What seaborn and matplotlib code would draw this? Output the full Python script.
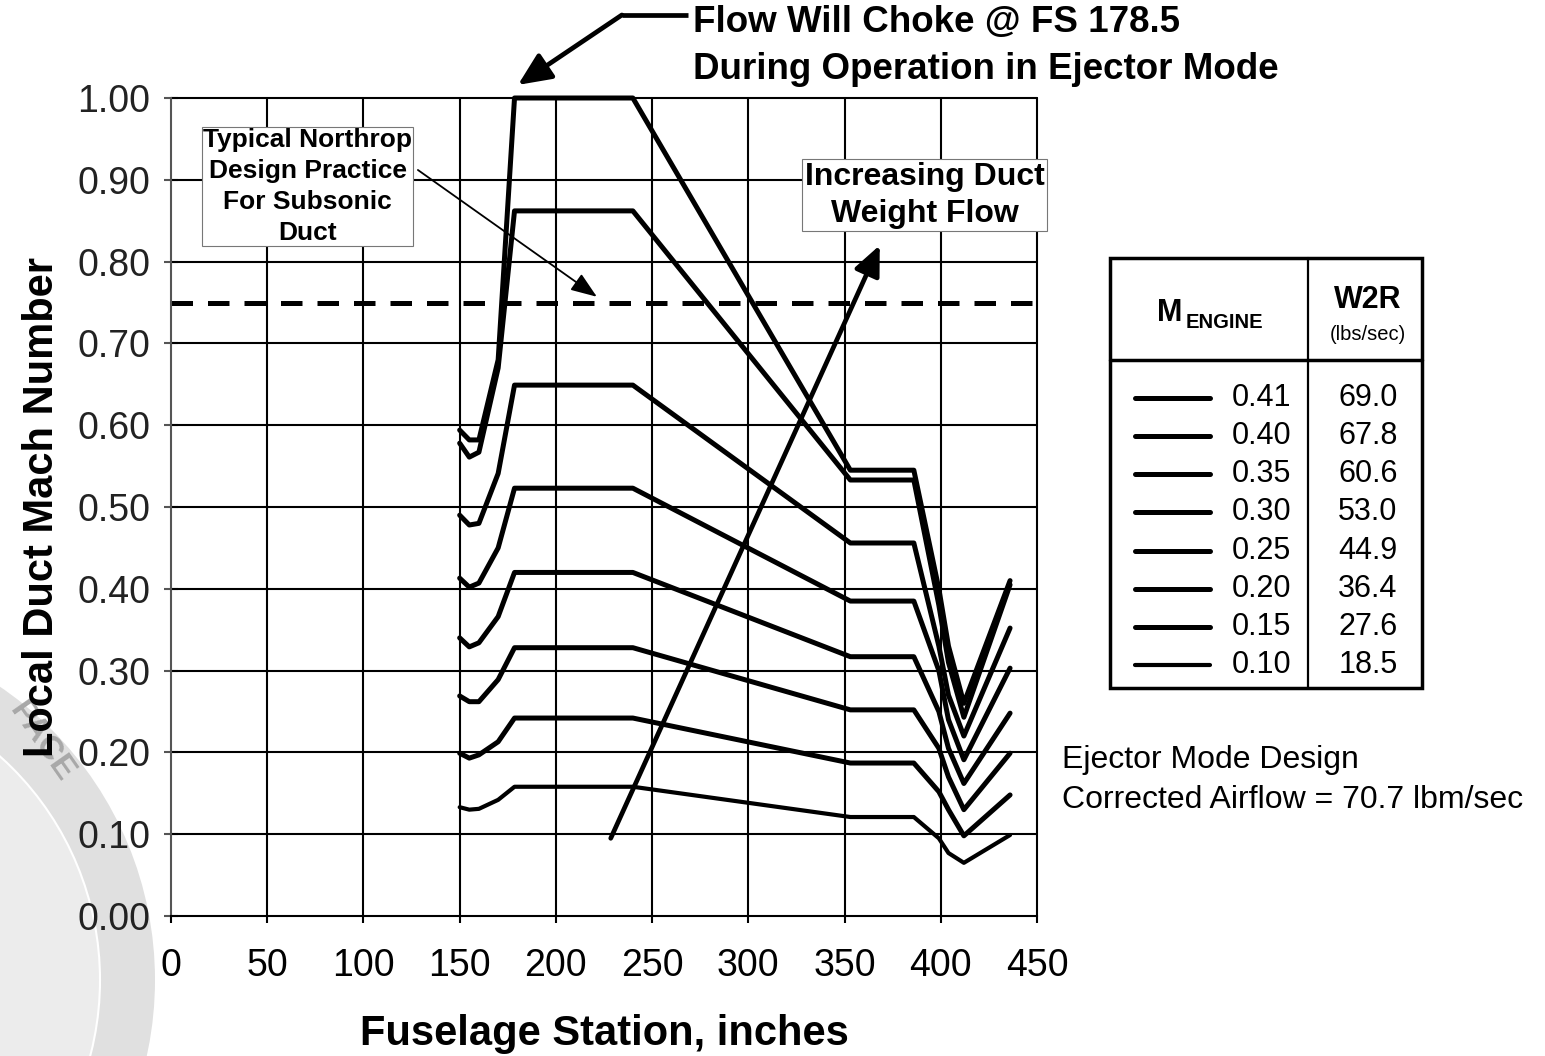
import numpy as np
import pandas as pd
import matplotlib
matplotlib.use('Agg')
import matplotlib.pyplot as plt
from matplotlib.patches import Ellipse, Rectangle
import seaborn as sns

# fuselage stations (inches) where each duct curve was read
stations = [150, 155, 160, 170, 178.5, 240, 353, 386, 399, 404, 412, 436]

# local duct Mach number per engine Mach number
mach_041 = [0.594, 0.582, 0.582, 0.680, 1.000, 1.000, 0.545, 0.545, 0.400, 0.330, 0.260, 0.410]
mach_040 = [0.578, 0.561, 0.567, 0.670, 0.862, 0.862, 0.533, 0.533, 0.380, 0.310, 0.243, 0.405]
mach_035 = [0.490, 0.478, 0.480, 0.541, 0.649, 0.649, 0.456, 0.456, 0.330, 0.270, 0.220, 0.352]
mach_030 = [0.413, 0.402, 0.407, 0.450, 0.523, 0.523, 0.385, 0.385, 0.300, 0.240, 0.191, 0.303]
mach_025 = [0.340, 0.329, 0.334, 0.366, 0.420, 0.420, 0.317, 0.317, 0.250, 0.205, 0.162, 0.248]
mach_020 = [0.269, 0.262, 0.262, 0.289, 0.328, 0.328, 0.252, 0.252, 0.205, 0.170, 0.130, 0.199]
mach_015 = [0.199, 0.193, 0.197, 0.213, 0.242, 0.242, 0.187, 0.187, 0.152, 0.130, 0.098, 0.148]
mach_010 = [0.133, 0.130, 0.131, 0.142, 0.158, 0.158, 0.121, 0.121, 0.095, 0.077, 0.065, 0.099]

m_engine = ['0.41', '0.40', '0.35', '0.30', '0.25', '0.20', '0.15', '0.10']
w2r = ['69.0', '67.8', '60.6', '53.0', '44.9', '36.4', '27.6', '18.5']
curves = [mach_041, mach_040, mach_035, mach_030, mach_025, mach_020, mach_015, mach_010]

design_limit = 0.75
x_ticks = list(range(0, 451, 50))
y_ticks = [0.0, 0.1, 0.2, 0.3, 0.4, 0.5, 0.6, 0.7, 0.8, 0.9, 1.0]

rows = []
for name, vals in zip(m_engine, curves):
    for s, v in zip(stations, vals):
        rows.append({'station': s, 'mach': v, 'engine': name})
df = pd.DataFrame(rows)

sns.set_theme(style='white')
plt.rcParams['font.family'] = ['Liberation Sans', 'DejaVu Sans']
plt.rcParams['text.color'] = 'black'
plt.rcParams['axes.labelcolor'] = 'black'

fig = plt.figure(figsize=(15.45, 10.56), dpi=100)
W, H = 1545, 1056

# faint stamp in the lower-left corner of the scan
cx, cy = -200 / W, 1 - 980 / H
fig.patches.append(Ellipse((cx, cy), 2 * 355 / W, 2 * 355 / H, transform=fig.transFigure,
                           fc='#e0e0e0', ec='none', zorder=-2))
fig.patches.append(Ellipse((cx, cy), 2 * 300 / W, 2 * 300 / H, transform=fig.transFigure,
                           fc='#ececec', ec='white', lw=1.5, zorder=-2))
fig.text(42 / W, 1 - 742 / H, 'PACE', rotation=-55, color='#a8a8a8', fontsize=24,
         fontweight='bold', ha='center', va='center', zorder=-1)

ax = fig.add_axes([171 / W, 1 - 916 / H, 866 / W, 818 / H])
ax.set_facecolor('white')

for xv in x_ticks[1:]:
    ax.axvline(xv, color='black', lw=1.5, zorder=1, clip_on=False)
for yv in y_ticks[1:]:
    ax.axhline(yv, color='black', lw=1.5, zorder=1, clip_on=False)

ax.axhline(design_limit, color='black', lw=3.6, dashes=(4.3, 3.0), zorder=2)

for name in m_engine:
    lw = 3.0 if name == '0.10' else 3.6
    sub = df[df['engine'] == name]
    sns.lineplot(data=sub, x='station', y='mach', ax=ax, color='black', lw=lw,
                 estimator=None, sort=False, legend=False, zorder=3, clip_on=False)

ax.set_xlim(0, 450)
ax.set_ylim(0, 1.0)
ax.set_xticks(x_ticks)
ax.set_yticks(y_ticks)
ax.set_yticklabels([f'{v:.2f}' for v in y_ticks])
ax.tick_params(axis='y', direction='inout', length=10, width=1.5, color='#555555',
               labelsize=27, pad=10, left=True, labelcolor='#222222')
ax.tick_params(axis='x', direction='out', length=5, width=1.5, color='black',
               labelsize=27, pad=18, bottom=True, labelcolor='black')
for side in ['top', 'right']:
    ax.spines[side].set_visible(False)
ax.spines['left'].set_color('#555555')
ax.spines['left'].set_linewidth(1.5)
ax.spines['bottom'].set_color('black')
ax.spines['bottom'].set_linewidth(1.5)

ax.set_xlabel('Fuselage Station, inches', fontsize=30, fontweight='bold', labelpad=22)
ax.set_ylabel('Local Duct Mach Number', fontsize=30, fontweight='bold', labelpad=11)

# choke callout
ax.text(271.2, 1.0636, 'Flow Will Choke @ FS 178.5\nDuring Operation in Ejector Mode',
        fontsize=26.5, fontweight='bold', ha='left', va='center', linespacing=1.45, clip_on=False)
ax.plot([268.6, 234.3], [1.1015, 1.1015], color='black', lw=3.4, clip_on=False,
        solid_capstyle='butt')
ax.annotate('', xy=(180.3, 1.016), xytext=(234.3, 1.1015), annotation_clip=False,
            arrowprops=dict(arrowstyle='-|>,head_length=1.0,head_width=0.45', mutation_scale=20,
                            lw=3.4, color='black', shrinkA=0, shrinkB=0))

# design practice callout
ax.text(71.0, 0.892, 'Typical Northrop\nDesign Practice\nFor Subsonic\nDuct', fontsize=19,
        fontweight='bold', ha='center', va='center', linespacing=1.36, zorder=4,
        bbox=dict(boxstyle='square,pad=0.04', fc='white', ec='#777777', lw=0.8))
ax.annotate('', xy=(221.3, 0.757), xytext=(128.3, 0.912), annotation_clip=False,
            arrowprops=dict(arrowstyle='-|>,head_length=0.8,head_width=0.3', mutation_scale=20,
                            lw=1.3, color='black', shrinkA=0, shrinkB=0))

# weight flow trend arrow
ax.annotate('', xy=(368.3, 0.82), xytext=(228.5, 0.095), annotation_clip=False,
            arrowprops=dict(arrowstyle='-|>,head_length=0.9,head_width=0.4', mutation_scale=20,
                            lw=3.4, color='black', shrinkA=0, shrinkB=0), zorder=4)
ax.text(391.7, 0.881, 'Increasing Duct\nWeight Flow', fontsize=23, fontweight='bold',
        ha='center', va='center', linespacing=1.3, zorder=5, clip_on=False,
        bbox=dict(boxstyle='square,pad=0.08', fc='white', ec='#777777', lw=0.8))

fig.text(1062 / W, 1 - 780 / H, 'Ejector Mode Design\nCorrected Airflow = 70.7 lbm/sec',
         fontsize=23, ha='left', va='center', linespacing=1.43)

# legend table
lax = fig.add_axes([1110 / W, 1 - 688 / H, 312 / W, 430 / H])
lax.set_xlim(0, 312)
lax.set_ylim(430, 0)
lax.axis('off')
lax.add_patch(Rectangle((0, 0), 312, 430, fill=False, ec='black', lw=2.5, clip_on=False))
lax.plot([0, 312], [102, 102], color='black', lw=2.5, clip_on=False)
lax.plot([198, 198], [0, 430], color='black', lw=1.6, clip_on=False)
lax.text(47, 55, 'M', fontsize=22, fontweight='bold', ha='left', va='center')
lax.text(76, 64, 'ENGINE', fontsize=14.5, fontweight='bold', ha='left', va='center')
lax.text(258, 42, 'W2R', fontsize=22, fontweight='bold', ha='center', va='center')
lax.text(258, 77, '(lbs/sec)', fontsize=14.5, ha='center', va='center')
row_y = [140, 178, 216, 254, 293, 331, 369, 407]
for yy, m, w in zip(row_y, m_engine, w2r):
    lax.plot([25, 100], [yy, yy], color='black', lw=3.6 if m != '0.10' else 3.0,
             solid_capstyle='round')
    lax.text(181, yy, m, fontsize=22, ha='right', va='center')
    lax.text(258, yy, w, fontsize=22, ha='center', va='center')

fig.savefig('out.png', dpi=100, facecolor='white')
